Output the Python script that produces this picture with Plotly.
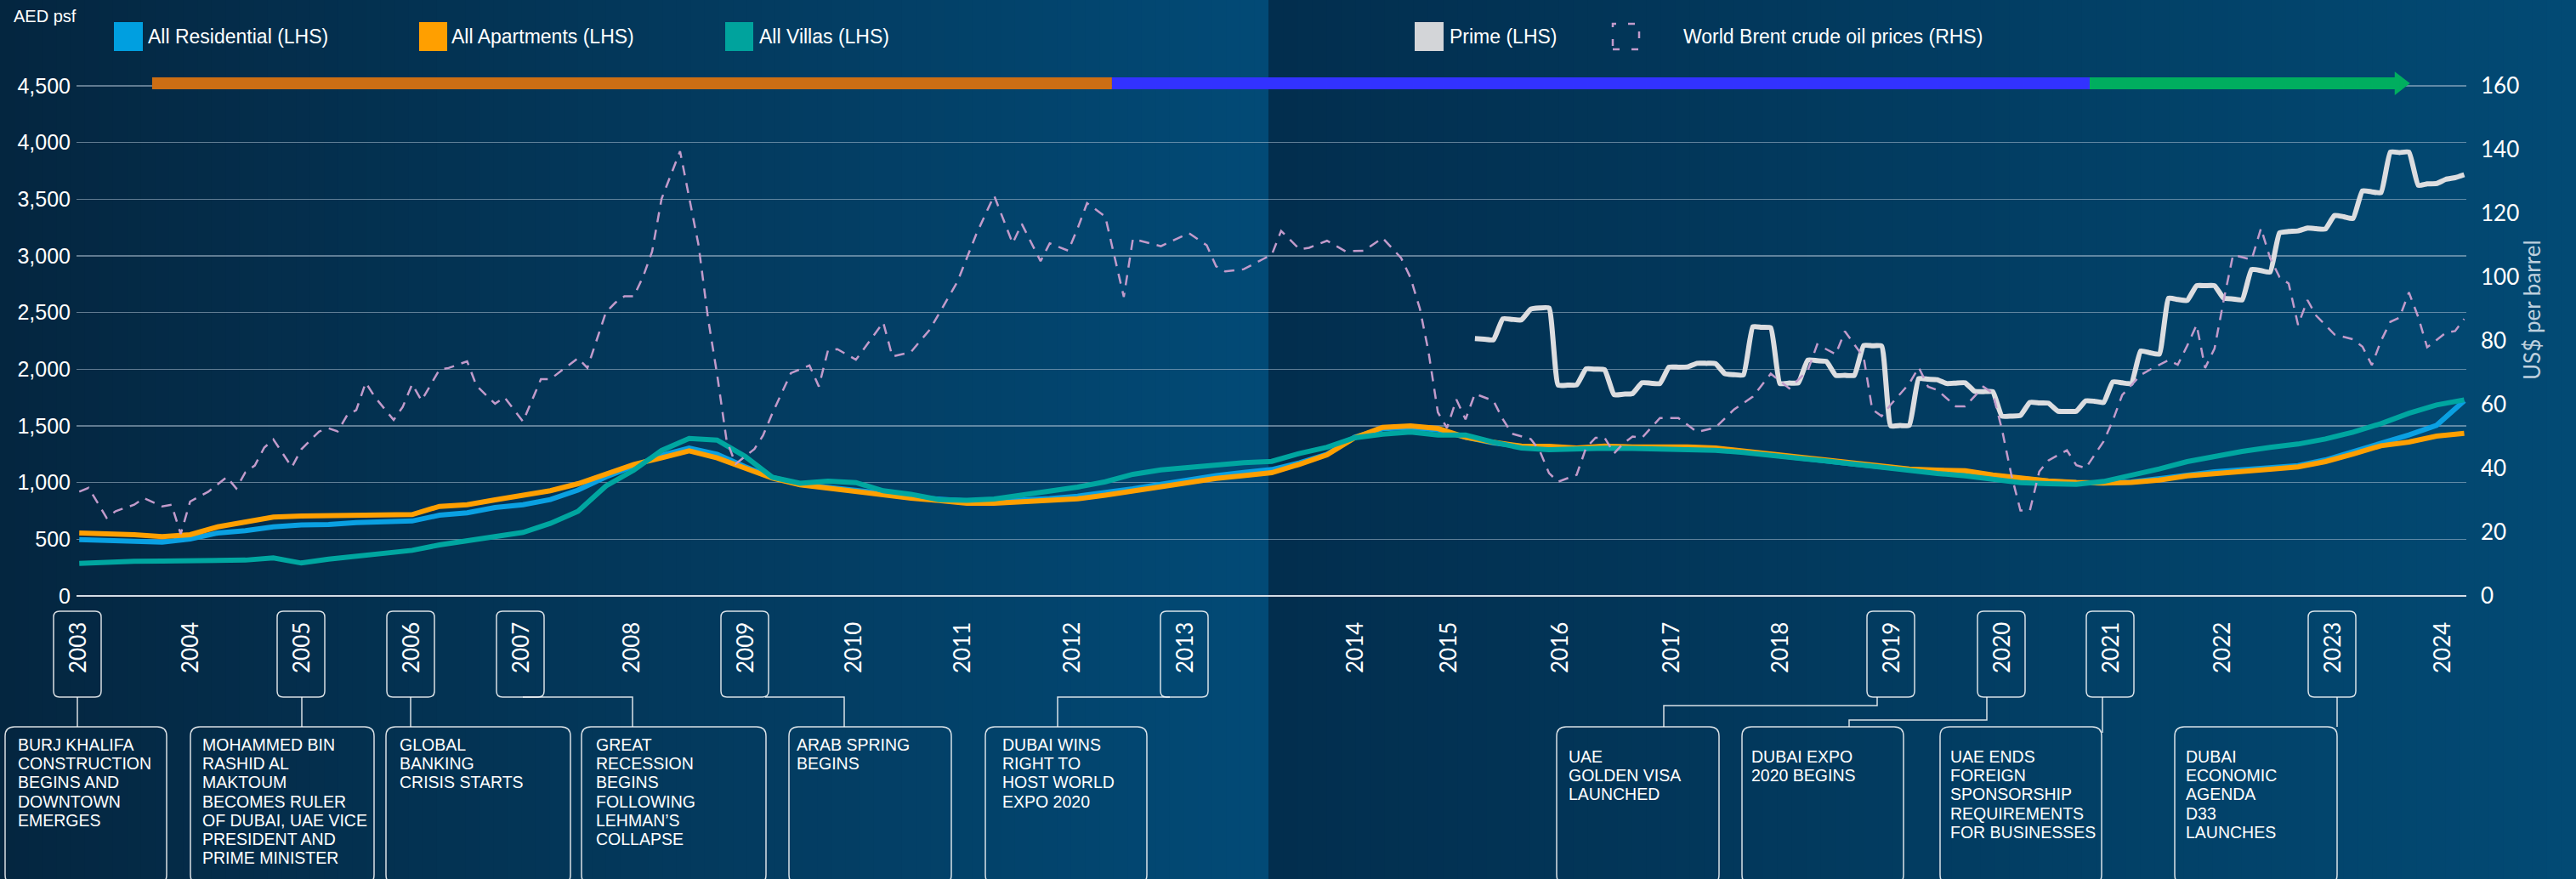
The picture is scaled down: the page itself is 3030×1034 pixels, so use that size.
import plotly.graph_objects as go

W, H = 3030, 1034

# ---------------- data ----------------
quarters = [f"{y}-{m:02d}-01" for y in range(2003, 2025) for m in (1, 4, 7, 10)][:87]

all_residential = [497, 492, 485, 474, 503, 555, 575, 610, 626, 630, 646, 652, 661, 712, 733, 780,
                   805, 850, 934, 1050, 1150, 1240, 1305, 1250, 1140, 1045, 985, 960, 935, 905, 870, 850,
                   838, 835, 845, 858, 880, 910, 945, 985, 1025, 1062, 1090, 1115, 1175, 1250, 1400, 1475,
                   1485, 1465, 1400, 1350, 1318, 1315, 1300, 1318, 1313, 1316, 1311, 1300, 1275, 1250, 1220, 1190,
                   1163, 1136, 1115, 1105, 1095, 1062, 1033, 1012, 1000, 995, 1005, 1030, 1065, 1095, 1113, 1125,
                   1150, 1200, 1270, 1345, 1420, 1505, 1722]
all_apartments = [555, 552, 540, 523, 540, 609, 655, 695, 705, 710, 713, 713, 718, 790, 805, 848,
                  890, 928, 990, 1070, 1160, 1218, 1280, 1218, 1126, 1039, 981, 949, 923, 889, 862, 842,
                  818, 818, 828, 836, 857, 889, 928, 968, 1004, 1037, 1062, 1087, 1162, 1245, 1395, 1487,
                  1500, 1477, 1400, 1355, 1322, 1320, 1305, 1322, 1315, 1320, 1315, 1305, 1278, 1255, 1225, 1195,
                  1168, 1140, 1120, 1110, 1105, 1067, 1038, 1015, 1002, 995, 1002, 1022, 1060, 1082, 1100, 1118,
                  1138, 1185, 1252, 1325, 1358, 1410, 1435]
all_villas = [287, 300, 305, 308, 310, 310, 316, 335, 290, 325, 350, 375, 402, 450, 489, 525,
              560, 640, 747, 970, 1110, 1283, 1389, 1375, 1231, 1047, 994, 1012, 1000, 928, 897, 849,
              844, 855, 889, 934, 960, 1007, 1073, 1112, 1136, 1162, 1175, 1187, 1257, 1312, 1395, 1427,
              1445, 1420, 1420, 1357, 1305, 1290, 1300, 1303, 1302, 1300, 1295, 1285, 1265, 1245, 1215, 1190,
              1160, 1135, 1110, 1080, 1060, 1032, 1000, 990, 985, 1010, 1060, 1120, 1185, 1235, 1275, 1310,
              1340, 1385, 1445, 1520, 1612, 1685, 1730]

prime_months = [f"{2015 + (7 + i) // 12}-{(7 + i) % 12 + 1:02d}-01" for i in range(108)]
prime = [2270, 2265, 2260, 2445, 2440, 2435, 2530, 2540, 2540, 1860, 1860, 1862,
         2003, 2000, 1995, 1775, 1780, 1785, 1880, 1877, 1874, 2018, 2018, 2020,
         2052, 2052, 2050, 1960, 1952, 1950, 2374, 2370, 2365, 1874, 1878, 1880,
         2081, 2075, 2069, 1946, 1946, 1946, 2210, 2207, 2204, 1500, 1503, 1506,
         1917, 1912, 1908, 1874, 1877, 1880, 1805, 1802, 1802, 1586, 1587, 1592,
         1707, 1703, 1701, 1630, 1628, 1630, 1721, 1718, 1707, 1888, 1880, 1874,
         2161, 2145, 2133, 2627, 2615, 2607, 2737, 2737, 2737, 2627, 2620, 2612,
         2880, 2870, 2857, 3203, 3215, 3220, 3245, 3240, 3237, 3357, 3345, 3330,
         3574, 3565, 3558, 3916, 3912, 3916, 3622, 3635, 3638, 3675, 3690, 3716]

oil_dates = ["2003-01", "2003-02", "2003-04", "2003-05", "2003-07", "2003-08", "2003-10", "2003-11", "2003-12",
             "2004-01", "2004-03", "2004-05", "2004-06", "2004-07", "2004-08", "2004-09", "2004-10", "2004-12",
             "2005-01", "2005-03", "2005-04", "2005-05", "2005-06", "2005-07", "2005-08", "2005-09", "2005-11", "2005-12",
             "2006-01", "2006-02", "2006-04", "2006-05", "2006-07", "2006-08", "2006-10", "2006-11",
             "2007-01", "2007-03", "2007-04", "2007-07", "2007-08", "2007-10", "2007-11", "2007-12",
             "2008-01", "2008-02", "2008-03", "2008-04", "2008-06", "2008-07", "2008-08", "2008-09", "2008-10", "2008-11", "2008-12",
             "2009-02", "2009-03", "2009-04", "2009-06", "2009-08", "2009-09", "2009-10", "2009-11",
             "2010-01", "2010-04", "2010-05", "2010-07", "2010-09", "2010-12",
             "2011-02", "2011-04", "2011-06", "2011-07", "2011-09", "2011-10", "2011-12",
             "2012-01", "2012-02", "2012-04", "2012-06", "2012-07", "2012-10",
             "2013-01", "2013-03", "2013-04", "2013-05", "2013-07", "2013-09", "2013-10", "2013-11",
             "2014-01", "2014-02", "2014-04", "2014-06", "2014-08", "2014-10", "2014-12",
             "2015-01", "2015-02", "2015-03", "2015-04", "2015-05", "2015-06", "2015-07", "2015-08", "2015-10", "2015-11", "2015-12",
             "2016-02", "2016-03", "2016-04", "2016-05", "2016-07", "2016-08", "2016-09", "2016-10", "2016-11", "2016-12",
             "2017-01", "2017-02", "2017-04", "2017-06", "2017-07", "2017-08", "2017-10", "2017-12",
             "2018-02", "2018-04", "2018-06", "2018-08", "2018-09", "2018-11", "2018-12",
             "2019-02", "2019-03", "2019-04", "2019-05", "2019-07", "2019-08", "2019-09", "2019-10", "2019-12",
             "2020-01", "2020-03", "2020-04", "2020-05", "2020-06", "2020-07", "2020-08", "2020-09", "2020-10", "2020-12",
             "2021-01", "2021-02", "2021-04", "2021-05", "2021-06", "2021-08", "2021-09", "2021-11", "2021-12",
             "2022-01", "2022-02", "2022-03", "2022-04", "2022-05", "2022-06", "2022-08", "2022-09", "2022-10", "2022-11", "2022-12",
             "2023-01", "2023-02", "2023-03", "2023-05", "2023-07", "2023-08", "2023-09", "2023-10", "2023-11", "2023-12",
             "2024-01", "2024-02", "2024-03", "2024-05", "2024-06", "2024-07"]
oil_prices = [32.7, 33.9, 24.5, 26.6, 28.6, 30.7, 28.1, 28.6, 19.4,
              29.6, 32.7, 37.3, 33.7, 38.8, 40.9, 46.5, 49.1, 40.4,
              46.0, 51.6, 52.6, 51.6, 56.7, 58.3, 66.9, 62.3, 55.2, 59.3,
              66.4, 61.3, 71.0, 71.5, 73.6, 65.9, 60.3, 62.3,
              54.7, 68.0, 68.0, 74.6, 71.5, 89.0, 92.0, 94.0,
              94.0, 100.3, 108.0, 124.5, 139.5, 124.6, 110.0, 87.2, 69.5, 48.9, 41.4,
              46.1, 50.3, 57.3, 69.9, 72.3, 65.7, 77.0, 77.4,
              74.1, 85.8, 75.1, 76.5, 83.5, 98.5,
              113.4, 125.6, 110.6, 116.7, 105.0, 110.6, 108.3,
              115.3, 123.2, 119.0, 93.8, 112.0, 109.7,
              113.8, 110.0, 103.4, 101.8, 102.5, 105.6, 107.0, 114.5,
              108.7, 109.2, 111.4, 108.1, 108.3, 112.3, 106.0,
              99.8, 90.0, 76.7, 57.6, 52.7, 61.6, 55.4, 63.4, 61.2, 55.4, 50.9,
              49.2, 45.6, 38.5, 35.8, 38.0, 46.5, 49.6, 49.6, 44.7, 47.8,
              50.0, 49.6, 55.8, 55.8, 53.6, 51.4, 52.8, 58.5,
              62.5, 69.7, 65.1, 70.7, 78.9, 75.8, 83.0,
              74.8, 58.5, 56.4, 60.0, 66.6, 71.7, 65.6, 64.6, 59.5,
              59.5, 65.6, 63.6, 52.3, 38.0, 26.8, 26.8, 39.0, 42.5, 45.7,
              41.0, 40.1, 48.5, 55.0, 63.0, 69.3, 71.0, 74.0, 72.5,
              78.5, 85.0, 71.5, 77.6, 92.7, 107.0, 105.5, 115.3, 106.0, 100.0, 98.0,
              85.0, 92.8, 88.0, 82.0, 80.5, 78.2, 72.4, 80.0, 86.0, 87.3,
              95.2, 87.4, 78.0, 82.5, 83.1, 86.9]

cycle_start = ["2003-08-29", "2012-04-23", "2021-02-14"]
cycle_end = ["2012-04-23", "2021-02-14", "2023-12-02"]

years = list(range(2003, 2025))
boxed_years = [2003, 2005, 2006, 2007, 2009, 2013, 2019, 2020, 2021, 2023]

events = [
    ["BURJ KHALIFA", "CONSTRUCTION", "BEGINS AND", "DOWNTOWN", "EMERGES"],
    ["MOHAMMED BIN", "RASHID AL", "MAKTOUM", "BECOMES RULER", "OF DUBAI, UAE VICE", "PRESIDENT AND", "PRIME MINISTER"],
    ["GLOBAL", "BANKING", "CRISIS STARTS"],
    ["GREAT", "RECESSION", "BEGINS", "FOLLOWING", "LEHMAN\u2019S", "COLLAPSE"],
    ["ARAB SPRING", "BEGINS"],
    ["DUBAI WINS", "RIGHT TO", "HOST WORLD", "EXPO 2020"],
    ["UAE", "GOLDEN VISA", "LAUNCHED"],
    ["DUBAI EXPO", "2020 BEGINS"],
    ["UAE ENDS", "FOREIGN", "SPONSORSHIP", "REQUIREMENTS", "FOR BUSINESSES"],
    ["DUBAI", "ECONOMIC", "AGENDA", "D33", "LAUNCHES"],
]

# ---------------- layout geometry (pixels) ----------------
YEAR_PX = [91, 223, 354, 483, 612, 742, 876, 1003, 1131, 1260, 1393, 1593, 1703, 1834, 1965,
           2093, 2224, 2354, 2482, 2613, 2743, 2872]
EVENT_BOX = [(6, 196), (224, 440), (454, 671), (684, 901), (928, 1119), (1159, 1349),
             (1831, 2022), (2049, 2239), (2282, 2472), (2558, 2749)]
EVENT_TEXT_X = [21, 238, 470, 701, 937, 1179, 1845, 2060, 2294, 2571]
EVENT_FIRST_LINE = [876] * 6 + [890] * 4
LINE_GAP = 22.2
CONNECTORS = [
    [(91, 820), (91, 855)],
    [(355, 820), (355, 855)],
    [(483, 820), (483, 855)],
    [(615, 820), (744, 820), (744, 855)],
    [(900, 820), (993, 820), (993, 855)],
    [(1376, 820), (1244, 820), (1244, 855)],
    [(2208, 820), (2208, 830), (1957, 830), (1957, 855)],
    [(2337, 820), (2337, 847), (2175, 847), (2175, 855)],
    [(2473, 820), (2473, 862)],
    [(2749, 820), (2749, 855)],
]

SANS = "Liberation Sans, Arial, sans-serif"
GEO = "Lato, Liberation Sans, sans-serif"


def X(p):
    return p / W


def Y(p):
    return 1 - p / H


def rrect(x0, y0, x1, y1, r):
    pts = (f"M {X(x0 + r)},{Y(y0)} L {X(x1 - r)},{Y(y0)} Q {X(x1)},{Y(y0)} {X(x1)},{Y(y0 + r)} "
           f"L {X(x1)},{Y(y1 - r)} Q {X(x1)},{Y(y1)} {X(x1 - r)},{Y(y1)} "
           f"L {X(x0 + r)},{Y(y1)} Q {X(x0)},{Y(y1)} {X(x0)},{Y(y1 - r)} "
           f"L {X(x0)},{Y(y0 + r)} Q {X(x0)},{Y(y0)} {X(x0 + r)},{Y(y0)} Z")
    return pts


def mix(c0, c1, f):
    return "rgb(%d,%d,%d)" % tuple(round(a + (b - a) * f) for a, b in zip(c0, c1))


shapes = []
# background: two gradient panels
N = 90
split = 1492
for i in range(N):
    a, b = split * i / N, split * (i + 1) / N
    shapes.append(dict(type="rect", xref="paper", yref="paper", x0=X(a), x1=X(b) + 0.0005, y0=0, y1=1,
                       fillcolor=mix((4, 38, 64), (2, 74, 118), i / (N - 1)), line_width=0, layer="below"))
for i in range(N):
    a, b = split + (W - split) * i / N, split + (W - split) * (i + 1) / N
    shapes.append(dict(type="rect", xref="paper", yref="paper", x0=X(a), x1=X(b) + 0.0005, y0=0, y1=1,
                       fillcolor=mix((2, 46, 78), (2, 74, 116), i / (N - 1)), line_width=0, layer="below"))

# cycle bars along the top
cycle_colors = ["#CC6E14", "#3232FF", "#00AE5F"]
for s, e, c in zip(cycle_start, cycle_end, cycle_colors):
    shapes.append(dict(type="rect", xref="x", yref="y", x0=s, x1=e, y0=4470, y1=4575,
                       fillcolor=c, line_width=0))

# legend swatches
for x0, x1, c in [(134, 168, "#009FE0"), (493, 526, "#FF9F00"), (853, 886, "#00A39D"),
                  (1664, 1698, "#D3D5D8")]:
    shapes.append(dict(type="rect", xref="paper", yref="paper", x0=X(x0), x1=X(x1), y0=Y(60), y1=Y(26),
                       fillcolor=c, line_width=0))
shapes.append(dict(type="rect", xref="paper", yref="paper", x0=X(1897), x1=X(1928), y0=Y(58), y1=Y(28),
                   line=dict(color="#C29BCB", width=2.5, dash="8px,14px")))

# year boxes
for yr, cx in zip(years, YEAR_PX):
    if yr in boxed_years:
        shapes.append(dict(type="path", xref="paper", yref="paper", path=rrect(cx - 28, 719, cx + 28, 820, 7),
                           line=dict(color="rgba(255,255,255,0.85)", width=1.5)))

# event boxes + connectors
for (x0, x1) in EVENT_BOX:
    shapes.append(dict(type="path", xref="paper", yref="paper", path=rrect(x0, 855, x1, 1040, 11),
                       line=dict(color="rgba(255,255,255,0.85)", width=1.5)))
for pts in CONNECTORS:
    path = "M " + " L ".join(f"{X(a)},{Y(b)}" for a, b in pts)
    shapes.append(dict(type="path", xref="paper", yref="paper", path=path,
                       line=dict(color="rgba(255,255,255,0.85)", width=1.5)))

annotations = []
annotations.append(dict(text="AED psf", x=X(14), y=Y(19), xref="paper", yref="paper", xanchor="left",
                        yanchor="middle", showarrow=False, font=dict(family=SANS, size=20, color="white")))
for x0, t in [(172, "All Residential (LHS)"), (529, "All Apartments (LHS)"), (891, "All Villas (LHS)"),
              (1703, "Prime (LHS)"), (1978, "World Brent crude oil prices (RHS)")]:
    annotations.append(dict(text=t, x=X(x0), y=Y(43), xref="paper", yref="paper", xanchor="left",
                            yanchor="middle", showarrow=False, font=dict(family=SANS, size=23, color="white")))
annotations.append(dict(text="US$ per barrel", x=X(2996), y=Y(365), xref="paper", yref="paper",
                        textangle=-90, showarrow=False,
                        font=dict(family=GEO, size=26, color="rgba(225,233,242,0.85)")))
for yr, cx in zip(years, YEAR_PX):
    annotations.append(dict(text=str(yr), x=X(cx), y=Y(794), xref="paper", yref="paper", textangle=-90,
                            xanchor="center", yanchor="bottom", showarrow=False,
                            font=dict(family=GEO, size=26, color="white")))
for lines, tx, top in zip(events, EVENT_TEXT_X, EVENT_FIRST_LINE):
    for k, ln in enumerate(lines):
        annotations.append(dict(text=ln, x=X(tx - 2), y=Y(top + LINE_GAP * k), xref="paper", yref="paper",
                                xanchor="left", yanchor="middle", showarrow=False,
                                font=dict(family=SANS, size=19.5, color="white")))

fig = go.Figure()
fig.add_trace(go.Scatter(x=quarters, y=all_residential, mode="lines", name="All Residential (LHS)",
                         line=dict(color="#0AA0E2", width=6)))
fig.add_trace(go.Scatter(x=quarters, y=all_apartments, mode="lines", name="All Apartments (LHS)",
                         line=dict(color="#FF9F00", width=6)))
fig.add_trace(go.Scatter(x=quarters, y=all_villas, mode="lines", name="All Villas (LHS)",
                         line=dict(color="#00A6A0", width=6)))
fig.add_trace(go.Scatter(x=prime_months, y=prime, mode="lines", name="Prime (LHS)",
                         line=dict(color="#DCDDE0", width=6, shape="spline", smoothing=0.4)))
fig.add_trace(go.Scatter(x=oil_dates, y=oil_prices, mode="lines", name="World Brent crude oil prices (RHS)",
                         yaxis="y2", line=dict(color="#C29BCB", width=2.5, dash="12px,9px")))
fig.add_trace(go.Scatter(x=[cycle_end[-1]], y=[4522], mode="markers", cliponaxis=False,
                         marker=dict(symbol="triangle-right", size=24, color=cycle_colors[-1])))

fig.update_layout(
    width=W, height=H, margin=dict(l=0, r=0, t=0, b=0),
    paper_bgcolor="#033559", plot_bgcolor="rgba(0,0,0,0)",
    showlegend=False, hovermode=False,
    shapes=shapes, annotations=annotations,
    xaxis=dict(domain=[90 / W, 2901 / W], type="date", range=["2002-12-23", "2024-07-08"],
               showgrid=False, showticklabels=False, zeroline=False, showline=False, automargin=False),
    yaxis=dict(domain=[1 - 701 / H, 1 - 85 / H], range=[0, 4620], tickvals=list(range(0, 5000, 500)),
               tickformat=",", showgrid=True, gridcolor="rgba(190,205,222,0.5)", gridwidth=1.3,
               zeroline=True, zerolinecolor="rgba(235,240,246,0.9)", zerolinewidth=1.6,
               tickfont=dict(family=SANS, size=25, color="white"), ticks="", ticklabelstandoff=6,
               automargin=False),
    yaxis2=dict(overlaying="y", side="right", range=[0, 4620 / 28.125], tickvals=list(range(0, 180, 20)),
                showgrid=False, zeroline=False, tickfont=dict(family=GEO, size=26, color="white"),
                ticks="", ticklabelstandoff=16, automargin=False),
)

# the page body has a default 8px margin; drop it so the figure fills the window exactly
fig.write_html("out.html", config={"displayModeBar": False, "staticPlot": True},
               post_script="document.body.style.margin='0';document.body.style.overflow='hidden';"
                           "document.body.style.background='#033559';")
